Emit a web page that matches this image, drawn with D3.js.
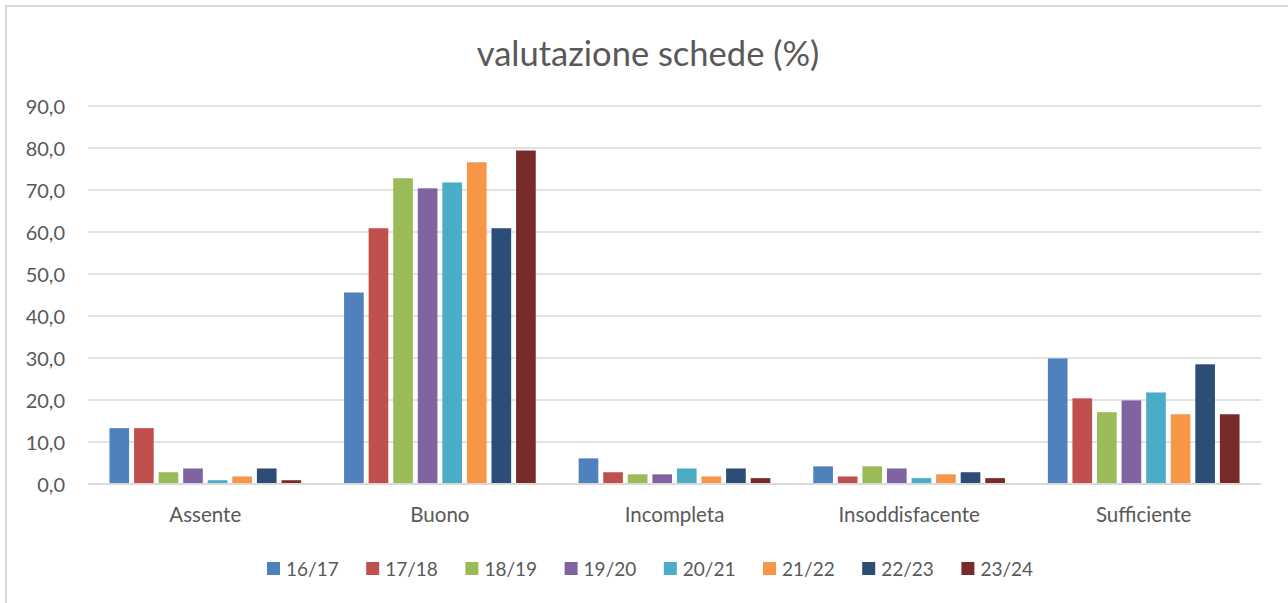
<!DOCTYPE html>
<html>
<head>
<meta charset="utf-8">
<script src="https://cdn.jsdelivr.net/npm/d3@7"></script>
<style>
  body { margin: 0; background: #fff; }
  text { font-family: Lato, "Open Sans", sans-serif; fill: #595959; }
</style>
</head>
<body>
<div class="chart"></div>
<script>
// categories and series
var categories = ["Assente", "Buono", "Incompleta", "Insoddisfacente", "Sufficiente"];
var seriesNames = ["16/17", "17/18", "18/19", "19/20", "20/21", "21/22", "22/23", "23/24"];
var colors = ["#4F81BD", "#C0504D", "#9BBB59", "#8064A2", "#4BACC6", "#F79646", "#2C4D75", "#772C2A"];

var s1617 = [13.3, 45.6, 6.1, 4.2, 29.9];
var s1718 = [13.3, 60.9, 2.8, 1.8, 20.4];
var s1819 = [2.8, 72.8, 2.3, 4.2, 17.1];
var s1920 = [3.7, 70.4, 2.3, 3.7, 19.9];
var s2021 = [0.9, 71.8, 3.7, 1.4, 21.8];
var s2122 = [1.8, 76.6, 1.8, 2.3, 16.6];
var s2223 = [3.7, 60.9, 3.7, 2.8, 28.5];
var s2324 = [0.9, 79.4, 1.4, 1.4, 16.6];
var yTicks = [0, 10, 20, 30, 40, 50, 60, 70, 80, 90];

var seriesValues = [s1617, s1718, s1819, s1920, s2021, s2122, s2223, s2324];

var svgWidth = 1288;
var svgHeight = 603;

var svg = d3.select(".chart")
  .append("svg")
  .attr("width", svgWidth)
  .attr("height", svgHeight);

// outer border of the chart area
svg.append("rect")
  .attr("x", 6).attr("y", 6)
  .attr("width", 1400).attr("height", 800)
  .attr("fill", "none")
  .attr("stroke", "#d9d9d9")
  .attr("stroke-width", 2);

var plotLeft = 88, plotRight = 1261, plotTop = 106, plotBottom = 484;

var x0 = d3.scaleBand()
  .domain(categories)
  .range([plotLeft, plotRight])
  .paddingInner(0.183)
  .paddingOuter(0.0915);

var x1 = d3.scaleBand()
  .domain(seriesNames)
  .range([0, x0.bandwidth()])
  .paddingInner(0.2);

var y = d3.scaleLinear()
  .domain([0, 90])
  .range([plotBottom, plotTop]);

// gridlines
svg.append("g")
  .selectAll("line")
  .data(yTicks)
  .enter().append("line")
    .attr("x1", plotLeft)
    .attr("x2", plotRight)
    .attr("y1", function(d) { return y(d); })
    .attr("y2", function(d) { return y(d); })
    .attr("stroke", "#d9d9d9")
    .attr("stroke-width", 1.5);

// y axis labels
var yAxis = d3.axisLeft(y)
  .tickValues(yTicks)
  .tickSize(0)
  .tickPadding(0)
  .tickFormat(function(d) { return d3.format(".1f")(d).replace(".", ","); });

var yAxisG = svg.append("g")
  .attr("transform", "translate(65,0)")
  .call(yAxis);
yAxisG.select(".domain").remove();
yAxisG.selectAll("text")
  .attr("font-size", 20)
  .attr("font-family", null)
  .attr("dy", "0.35em");

// bars
var groups = svg.append("g")
  .selectAll("g")
  .data(seriesNames)
  .enter().append("g")
    .attr("fill", function(d, i) { return colors[i]; });

groups.selectAll("rect")
  .data(function(d, i) {
    return categories.map(function(c, j) { return { cat: c, series: d, value: seriesValues[i][j] }; });
  })
  .enter().append("rect")
    .attr("x", function(d) { return x0(d.cat) + x1(d.series); })
    .attr("width", x1.bandwidth())
    .attr("y", function(d) { return y(d.value); })
    .attr("height", function(d) { return y(0) - y(d.value); });

// baseline
svg.append("line")
  .attr("x1", plotLeft).attr("x2", plotRight)
  .attr("y1", y(0)).attr("y2", y(0))
  .attr("stroke", "#d9d9d9")
  .attr("stroke-width", 2);

// x axis labels
var xAxis = d3.axisBottom(x0).tickSize(0).tickPadding(0);
var xAxisG = svg.append("g")
  .attr("transform", "translate(0,507)")
  .call(xAxis);
xAxisG.select(".domain").remove();
xAxisG.selectAll("text")
  .attr("font-size", 20.5)
  .attr("font-family", null);

// title
svg.append("text")
  .attr("x", 648)
  .attr("y", 66)
  .attr("text-anchor", "middle")
  .attr("font-size", 34.5)
  .text("valutazione schede (%)");

// legend
var legend = svg.append("g")
  .selectAll("g")
  .data(seriesNames)
  .enter().append("g")
    .attr("transform", function(d, i) { return "translate(" + (267 + i * 99.2) + ",562)"; });

legend.append("rect")
  .attr("width", 13)
  .attr("height", 13)
  .attr("fill", function(d, i) { return colors[i]; });

legend.append("text")
  .attr("x", 19)
  .attr("y", 7)
  .attr("dy", "0.35em")
  .attr("font-size", 19)
  .text(function(d) { return d; });
</script>
</body>
</html>
